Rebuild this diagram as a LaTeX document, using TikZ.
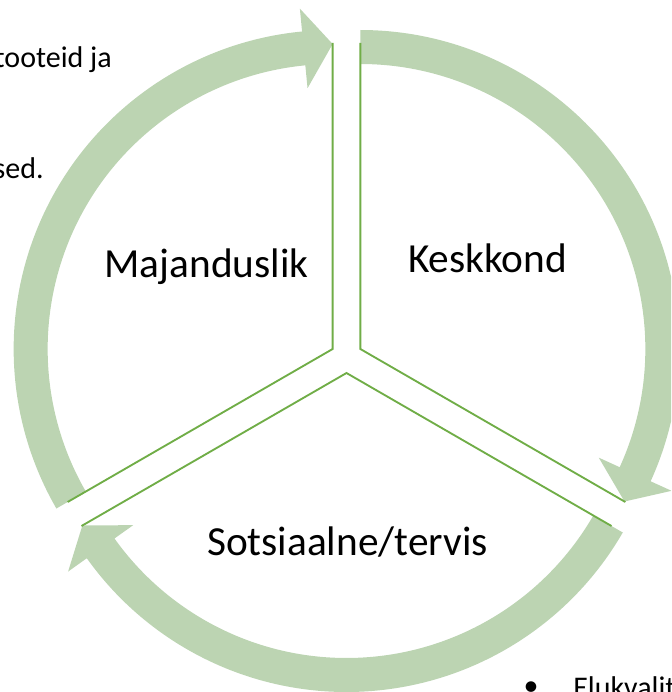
\documentclass[tikz,border=0pt]{standalone}
\usepackage{fontspec}
\setmainfont{Carlito}
\usepackage{tikz}
\usetikzlibrary{calc}
\definecolor{cyclegreen}{RGB}{112,173,71}
\definecolor{arrowgreen}{RGB}{188,212,178}

\begin{document}
\begin{tikzpicture}[
    x=0.75pt, y=0.75pt,
    cyclearrow/.style={fill=arrowgreen},
    segline/.style={draw=cyclegreen, line width=1.4pt},
    seglabel/.style={anchor=base, inner sep=0pt, font=\fontsize{31}{37}\selectfont},
    sidetext/.style={inner sep=0pt, font=\fontsize{22.5}{27}\selectfont}
]
\useasboundingbox (0,0) rectangle (671,-692);
\clip (0,0) rectangle (671,-692);

% Centre of the cycle and the apex of each segment
\coordinate (c) at (346.5,-357);
\coordinate (econ) at ($(c)+(150:16)$);
\coordinate (env) at ($(c)+(30:16)$);
\coordinate (soc) at ($(c)+(270:16)$);

% Circular arrows
\fill[cyclearrow, shift={(econ)}] (210:319) arc[start angle=210, end angle=95.5, radius=319]
    -- (95.5:342) -- (90:305) -- (95.5:262) -- (95.5:285)
    arc[start angle=95.5, end angle=210, radius=285] -- cycle;
\fill[cyclearrow, shift={(env)}] (90:319) arc[start angle=90, end angle=-24.5, radius=319]
    -- (-24.5:342) -- (-30:305) -- (-24.5:262) -- (-24.5:285)
    arc[start angle=-24.5, end angle=90, radius=285] -- cycle;
\fill[cyclearrow, shift={(soc)}] (330:319) arc[start angle=330, end angle=215.5, radius=319]
    -- (215.5:342) -- (210:305) -- (215.5:262) -- (215.5:285)
    arc[start angle=215.5, end angle=330, radius=285] -- cycle;

% Segment edges
\draw[segline] ($(econ)+(90:306)$) -- (econ) -- ($(econ)+(210:306)$);
\draw[segline] ($(env)+(90:306)$) -- (env) -- ($(env)+(-30:306)$);
\draw[segline] ($(soc)+(210:306)$) -- (soc) -- ($(soc)+(-30:306)$);

% Segment labels
\node[seglabel] (econlabel) at (206.5,-277) {Majanduslik};
\node[seglabel] (envlabel) at (487.5,-272) {Keskkond};
\node[seglabel] (soclabel) at (347.5,-555) {Sotsiaalne/tervis};

% Surrounding text
\node[sidetext, anchor=base east] (prodtext) at (112,-68) {tooteid ja};
\node[sidetext, anchor=base east] (sedtext) at (44,-178) {sed.};
\node[sidetext, anchor=base] (bullet) at (531,-695) {•};
\node[sidetext, anchor=base west] (lifetext) at (573,-697) {Elukvalit};

\end{tikzpicture}
\end{document}
